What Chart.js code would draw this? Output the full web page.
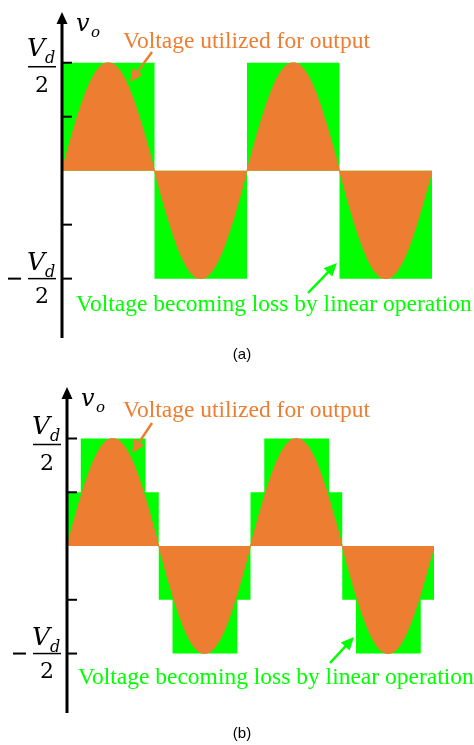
<!DOCTYPE html>
<html>
<head>
<meta charset="utf-8">
<script src="https://cdn.jsdelivr.net/npm/chart.js@4.4.1/dist/chart.umd.min.js"></script>
<style>
  body { margin: 0; background: #fff; }
  #wrap { position: relative; width: 474px; height: 745px; }
  canvas { position: absolute; left: 0; }
</style>
</head>
<body>
<div id="wrap">
  <canvas id="chartA" width="474" height="372" style="top:0"></canvas>
  <canvas id="chartB" width="474" height="373" style="top:372px"></canvas>
</div>
<script>
// phase angle in degrees (two periods)
var angles = [0, 15, 30, 45, 60, 75, 90, 105, 120, 135, 150, 165, 180,
              195, 210, 225, 240, 255, 270, 285, 300, 315, 330, 345, 360,
              375, 390, 405, 420, 435, 450, 465, 480, 495, 510, 525, 540,
              555, 570, 585, 600, 615, 630, 645, 660, 675, 690, 705, 720];
// output voltage v_o in units of Vd/2
var outputVoltage = [0, 0.26, 0.5, 0.71, 0.87, 0.97, 1, 0.97, 0.87, 0.71, 0.5, 0.26, 0,
                     -0.26, -0.5, -0.71, -0.87, -0.97, -1, -0.97, -0.87, -0.71, -0.5, -0.26, 0,
                     0.26, 0.5, 0.71, 0.87, 0.97, 1, 0.97, 0.87, 0.71, 0.5, 0.26, 0,
                     -0.26, -0.5, -0.71, -0.87, -0.97, -1, -0.97, -0.87, -0.71, -0.5, -0.26, 0];
// (a) two-level supply
var squareX = [0, 180, 360, 540, 720];
var squareY = [1, -1, 1, -1, -1];
// (b) four-level supply
var stairX = [0, 27, 154, 180, 207, 334, 360, 387, 514, 540, 567, 694, 720];
var stairY = [0.5, 1, 0.5, -0.5, -1, -0.5, 0.5, 1, 0.5, -0.5, -1, -0.5, -0.5];
// y axis ticks
var tickValues = [1, 0.5, -0.5, -1];

var ORANGE = '#ED7D31';
var GREEN = '#00FF00';
var SERIF = '"Liberation Serif", "Times New Roman", serif';

function pts(xs, ys) {
    return xs.map(function (x, i) { return { x: x, y: ys[i] }; });
}

function arrow(ctx, x1, y1, x2, y2, color) {
    var ang = Math.atan2(y2 - y1, x2 - x1);
    var len = 13, half = 6;
    ctx.save();
    ctx.strokeStyle = color;
    ctx.fillStyle = color;
    ctx.lineWidth = 2.5;
    ctx.beginPath();
    ctx.moveTo(x1, y1);
    ctx.lineTo(x2 - Math.cos(ang) * (len - 2), y2 - Math.sin(ang) * (len - 2));
    ctx.stroke();
    ctx.beginPath();
    ctx.moveTo(x2, y2);
    ctx.lineTo(x2 - Math.cos(ang) * len - Math.sin(ang) * half, y2 - Math.sin(ang) * len + Math.cos(ang) * half);
    ctx.lineTo(x2 - Math.cos(ang) * len + Math.sin(ang) * half, y2 - Math.sin(ang) * len - Math.cos(ang) * half);
    ctx.closePath();
    ctx.fill();
    ctx.restore();
}

function fraction(ctx, ax, lineY, vBase, twoBase, minus) {
    ctx.fillStyle = '#000';
    ctx.textAlign = 'left';
    ctx.textBaseline = 'alphabetic';
    ctx.font = 'italic 25px "DejaVu Serif"';
    ctx.fillText('V', ax - 35, vBase);
    ctx.font = 'italic 16px "DejaVu Serif"';
    ctx.fillText('d', ax - 17, vBase + 7);
    ctx.fillRect(ax - 34, lineY - 0.75, 28, 1.5);
    ctx.font = '22px "DejaVu Serif"';
    ctx.textAlign = 'center';
    ctx.fillText('2', ax - 20, twoBase);
    if (minus) {
        ctx.fillRect(ax - 54, lineY - 1, 13, 2);
    }
}

function axisPlugin(cfg) {
    return {
        id: 'axisDecor',
        afterDatasetsDraw: function (chart) {
            var ctx = chart.ctx;
            var xs = chart.scales.x, ys = chart.scales.y;
            var ax = xs.getPixelForValue(0);
            var top = chart.chartArea.top, bottom = chart.chartArea.bottom;
            ctx.save();
            // axis line and arrow
            ctx.fillStyle = '#000';
            ctx.fillRect(ax - 1.5, top + 8, 3, bottom - top - 8);
            ctx.beginPath();
            ctx.moveTo(ax, top);
            ctx.lineTo(ax - 5.5, top + 12);
            ctx.lineTo(ax + 5.5, top + 12);
            ctx.closePath();
            ctx.fill();
            tickValues.forEach(function (v) {
                var y = ys.getPixelForValue(v);
                ctx.fillRect(ax, y - 1, 10, 2);
            });
            // v_o
            ctx.font = 'italic 24px "DejaVu Serif"';
            ctx.textAlign = 'left';
            ctx.fillText('v', ax + 14, top + 19);
            ctx.font = 'italic 15px "DejaVu Serif"';
            ctx.fillText('o', ax + 29, top + 25);
            // +-Vd/2
            var yp = ys.getPixelForValue(1), yn = ys.getPixelForValue(-1);
            fraction(ctx, ax, yp + 4 + cfg.dy, yp - 7 + cfg.dy, yp + 29 + cfg.dy, false);
            fraction(ctx, ax, yn, yn - 9, yn + 24, true);
            // labels
            ctx.font = '23.5px ' + SERIF;
            ctx.textAlign = 'left';
            ctx.fillStyle = ORANGE;
            ctx.fillText('Voltage utilized for output', 123, cfg.orangeBase);
            ctx.fillStyle = GREEN;
            ctx.fillText('Voltage becoming loss by linear operation', cfg.greenX, cfg.greenBase);
            arrow(ctx, cfg.oa[0], cfg.oa[1], cfg.oa[2], cfg.oa[3], ORANGE);
            arrow(ctx, cfg.ga[0], cfg.ga[1], cfg.ga[2], cfg.ga[3], GREEN);
            ctx.fillStyle = '#000';
            ctx.font = '15px "Liberation Sans"';
            ctx.textAlign = 'center';
            ctx.fillText(cfg.caption, 242, cfg.captionBase);
            ctx.restore();
        }
    };
}

function makeChart(id, greenX, greenY, layout, yMin, yMax, cfg) {
    return new Chart(document.getElementById(id), {
        type: 'line',
        data: {
            datasets: [{
                label: 'output',
                data: pts(angles, outputVoltage),
                borderColor: ORANGE,
                backgroundColor: ORANGE,
                borderWidth: 1,
                fill: 'origin',
                cubicInterpolationMode: 'monotone',
                pointRadius: 0,
                order: 0
            }, {
                label: 'supply',
                data: pts(greenX, greenY),
                borderColor: 'rgba(0,0,0,0)',
                backgroundColor: GREEN,
                borderWidth: 0,
                stepped: 'before',
                fill: 'origin',
                pointRadius: 0,
                order: 1
            }]
        },
        options: {
            responsive: false,
            animation: false,
            layout: { padding: layout },
            plugins: { legend: { display: false }, tooltip: { enabled: false } },
            scales: {
                x: { type: 'linear', min: 0, max: 720, display: false },
                y: { min: yMin, max: yMax, display: false }
            }
        },
        plugins: [axisPlugin(cfg)]
    });
}

makeChart('chartA', squareX, squareY,
    { left: 62, right: 42, top: 12, bottom: 34 }, -1.55, 1.47,
    { dy: 0, orangeBase: 48, greenX: 76, greenBase: 311,
      oa: [152, 52, 130, 82], ga: [308, 293, 337, 263],
      caption: '(a)', captionBase: 359 });

makeChart('chartB', stairX, stairY,
    { left: 67, right: 40, top: 15, bottom: 32 }, -1.553, 1.479,
    { dy: 2, orangeBase: 45, greenX: 78, greenBase: 312,
      oa: [152, 51, 132, 81], ga: [330, 291, 354, 265],
      caption: '(b)', captionBase: 366 });
</script>
</body>
</html>
